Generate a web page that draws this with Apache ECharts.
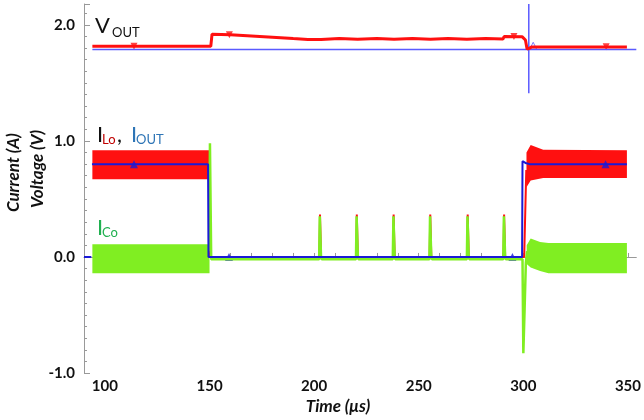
<!DOCTYPE html>
<html>
<head>
<meta charset="utf-8">
<script src="https://cdn.jsdelivr.net/npm/echarts@6/dist/echarts.min.js"></script>
<style>
  html, body { margin: 0; padding: 0; background: #fff; }
  #main { width: 644px; height: 420px; }
</style>
</head>
<body>
<div id="main"></div>
<script>
// 电压 V_OUT (V)
var vOut = [[94,1.815],[150.6,1.815],[151.2,1.92],[160,1.915],[176,1.898],[190,1.882],[197,1.875],
  [203.3,1.875],[203.8,1.89],[212,1.882],[220.8,1.876],[221.3,1.89],[230,1.882],[238.2,1.876],
  [238.7,1.89],[247,1.882],[255.6,1.876],[256.1,1.89],[264,1.882],[273,1.876],[273.5,1.89],
  [282,1.882],[290.3,1.878],[290.8,1.9],[299.5,1.897],[301,1.87],[301.8,1.79],[303,1.8],[304,1.81],[349.5,1.81]];
var vOutMarks = [[113.9,1.815],[159.5,1.915],[295.5,1.9],[339.6,1.812]];
var vRef = [[94,1.788],[354,1.788]];
var vCursor = [[302.6,1.41],[302.6,2.18]];
var vCursorMark = [[304.7,1.82]];

// 电感电流 I_Lo (A)：纹波带 [t, 下沿, 上沿]
var iLoBand1 = [[94,0.67,0.92],[150,0.67,0.92]];
var iLoBand2 = [[301.5,0.6,0.9],[303.5,0.66,0.965],[309.5,0.68,0.925],[349.5,0.68,0.92]];
var iLoLine = [[149.8,0.75],[150.4,0],[202.5,0],[202.8,0.365],[203.3,0],[220.1,0],[220.4,0.365],[220.9,0],
  [237.7,0],[238,0.365],[238.5,0],[255.2,0],[255.5,0.365],[256,0],[273.1,0],[273.4,0.365],[273.9,0],
  [290.5,0],[290.8,0.365],[291.3,0],[300.4,0],[301.4,0.75]];

// 电容电流 I_Co (A)
var iCoBand1 = [[94,-0.14,0.11],[150,-0.14,0.11]];
var iCoBand2 = [[301.6,-0.06,0.1],[303.5,-0.09,0.16],[308,-0.12,0.13],[312,-0.14,0.12],[349.5,-0.14,0.12]];
var iCoLine = [[149.9,0.05],[150.2,0.98],[150.8,-0.02],[202.4,-0.02],[202.7,0.35],[203.3,0],[203.6,-0.02],
  [220,-0.02],[220.3,0.35],[220.9,0],[221.2,-0.02],[237.6,-0.02],[237.9,0.35],[238.5,0],[238.8,-0.02],
  [255.1,-0.02],[255.4,0.35],[256,0],[256.3,-0.02],[273,-0.02],[273.3,0.35],[273.9,0],[274.2,-0.02],
  [290.4,-0.02],[290.7,0.35],[291.3,0],[291.6,-0.02],[299.6,-0.02],[300,-0.83],[300.6,-0.45],[301.2,-0.05],[301.8,0.05]];

// 输出电流 I_OUT (A)
var iOut = [[90,0],[93.5,0],[93.5,'-'],[93.8,0.8],[149.3,0.8],[149.5,0],[299.4,0],[299.6,0.825],[301,0.81],[303,0.8],[349.5,0.8]];
var iOutMarks = [[113.9,0.8],[159.3,0],[294.8,0],[339.3,0.8]];

var FONT = 'Lato';
var RED = '#ff1010', GREEN = '#80ee22', BLUE = '#1a1ad6';

function bandSeries(band, color) {
    return {
        type: 'custom',
        data: band,
        encode: { x: 0, y: [1, 2] },
        clip: true,
        silent: true,
        renderItem: function (params, api) {
            if (params.dataIndex !== 0) return;
            var top = band.map(function (p) { return api.coord([p[0], p[2]]); });
            var bot = band.slice().reverse().map(function (p) { return api.coord([p[0], p[1]]); });
            return { type: 'polygon', shape: { points: top.concat(bot) }, style: { fill: color } };
        }
    };
}

function lineSeries(data, color, width) {
    return { type: 'line', data: data, symbol: 'none', silent: true,
        lineStyle: { color: color, width: width }, itemStyle: { color: color } };
}

function label(text, x, y, size, color) {
    return { type: 'text', x: x, y: y, silent: true,
        style: { text: text, fontFamily: FONT, fontSize: size, fill: color } };
}

function title(text, x, y, rot, align) {
    return { type: 'text', x: x, y: y, rotation: rot, silent: true,
        style: { text: text, fontFamily: FONT, fontSize: 17, fontWeight: 'bold', fontStyle: 'italic',
            fill: '#111', align: align || 'left' } };
}

var chart = echarts.init(document.getElementById('main'), null, { renderer: 'canvas' });
chart.setOption({
    animation: false,
    backgroundColor: '#fff',
    grid: { left: 84, right: 0, top: 4, bottom: 47 },
    xAxis: {
        type: 'value', min: 90, max: 354, interval: 10,
        axisLine: { lineStyle: { color: '#999' } },
        axisTick: { inside: true, length: 4, lineStyle: { color: '#999' } },
        axisLabel: { fontFamily: FONT, fontSize: 15, fontWeight: 'bold', color: '#111', margin: 6,
            showMaxLabel: false,
            formatter: function (v) { return (v >= 100 && v % 50 === 0) ? String(v) : ''; } },
        splitLine: { show: false }
    },
    yAxis: {
        type: 'value', min: -1, max: 2.18, interval: 1,
        axisLine: { show: true, lineStyle: { color: '#999' } },
        axisTick: { show: true, inside: true, length: 6, lineStyle: { color: '#999' } },
        minorTick: { show: true, splitNumber: 10, length: 3, lineStyle: { color: '#999' } },
        axisLabel: { fontFamily: FONT, fontSize: 15, fontWeight: 'bold', color: '#111', margin: 9,
            showMaxLabel: false,
            formatter: function (v) { return v % 1 === 0 ? v.toFixed(1) : ''; } },
        splitLine: { show: false }
    },
    graphic: [
        title('Current (A)', 5, 212, Math.PI / 2),
        title('Voltage (V)', 29, 208, Math.PI / 2),
        title('Time (\u03bcs)', 338, 398, 0, 'center'),
        label('V', 95, 15, 22, '#111'),
        label('OUT', 112, 26, 13, '#111'),
        label('I', 97, 124, 22, '#111'),
        label('Lo', 102, 133, 13, '#c00000'),
        label(',', 117, 124, 22, '#111'),
        label('I', 131, 124, 22, '#2e75b6'),
        label('OUT', 136, 133, 13, '#2e75b6'),
        label('I', 97, 217, 22, '#20b050'),
        label('Co', 102, 226, 13, '#20b050')
    ],
    series: [
        bandSeries(iLoBand1, RED),
        bandSeries(iLoBand2, RED),
        bandSeries(iCoBand1, GREEN),
        bandSeries(iCoBand2, GREEN),
        lineSeries(iLoLine, RED, 2),
        lineSeries(iCoLine, GREEN, 2.5),
        lineSeries(iOut, BLUE, 2),
        { type: 'scatter', data: iOutMarks, symbol: 'triangle', symbolSize: 8, silent: true,
          itemStyle: { color: BLUE } },
        lineSeries(vRef, '#5a5aff', 1.5),
        lineSeries(vCursor, '#5a5aff', 1.5),
        { type: 'scatter', data: vCursorMark, symbol: 'triangle', symbolSize: 7, silent: true,
          itemStyle: { color: 'transparent', borderColor: '#5a5aff', borderWidth: 1 } },
        lineSeries(vOut, RED, 3),
        { type: 'scatter', data: vOutMarks, symbol: 'triangle', symbolRotate: 180, symbolSize: 7, silent: true,
          itemStyle: { color: RED } }
    ]
});
</script>
</body>
</html>
